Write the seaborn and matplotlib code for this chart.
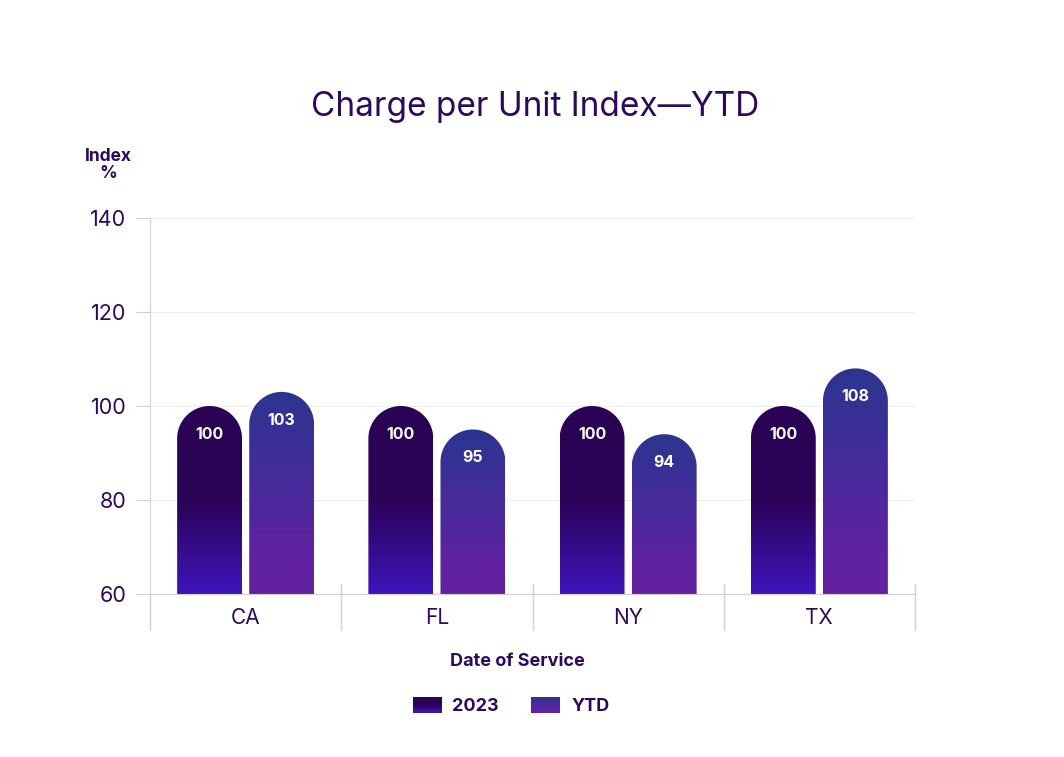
import numpy as np
import pandas as pd
import matplotlib
matplotlib.use("Agg")
import matplotlib.pyplot as plt
import seaborn as sns
from matplotlib.path import Path
from matplotlib.patches import PathPatch, Patch
from matplotlib.colors import LinearSegmentedColormap
from matplotlib.image import BboxImage
from matplotlib.legend_handler import HandlerBase
import matplotlib.transforms as mtransforms

# ── Data ──────────────────────────────────────────────────────────────────────
states = ["CA", "FL", "NY", "TX"]
index_2023 = [100, 100, 100, 100]
index_ytd = [103, 95, 94, 108]
series_names = ["2023", "YTD"]
y_ticks = [60, 80, 100, 120, 140]

TEXT = "#2b0a5e"
GRID = "#eeeeee"
AXIS = "#d0d0d0"

cmaps = {
    "2023": LinearSegmentedColormap.from_list(
        "c2023", [(0.0, "#2a0454"), (0.5, "#2b0258"), (1.0, "#3f15ba")]),
    "YTD": LinearSegmentedColormap.from_list(
        "cytd", [(0.0, "#2b3590"), (0.5, "#4a2a9c"), (0.8, "#6022a0"), (1.0, "#6322a0")]),
}

df = pd.DataFrame({
    "state": states * 2,
    "series": [series_names[0]] * len(states) + [series_names[1]] * len(states),
    "value": index_2023 + index_ytd,
})


class GradientHandler(HandlerBase):
    """Legend key drawn as a small vertical gradient swatch."""

    def __init__(self, cmap):
        super().__init__()
        self.cmap = cmap

    def create_artists(self, legend, orig_handle, xdescent, ydescent,
                       width, height, fontsize, trans):
        bbox = mtransforms.TransformedBbox(
            mtransforms.Bbox.from_bounds(-xdescent, -ydescent, width, height), trans)
        img = BboxImage(bbox, cmap=self.cmap, origin="upper", interpolation="bilinear")
        img.set_data(np.linspace(0, 1, 64).reshape(-1, 1))
        return [img]


# ── Style ─────────────────────────────────────────────────────────────────────
sns.set_style("white")
plt.rcParams["font.family"] = ["Inter", "DejaVu Sans"]

fig = plt.figure(figsize=(10.64, 7.57), dpi=100)
ax = fig.add_axes([150 / 1064, 1 - 594 / 757, 765 / 1064, 376 / 757])

sns.barplot(data=df, x="state", y="value", hue="series", order=states,
            hue_order=series_names, width=0.754, gap=0.1, ax=ax, legend=False)

ymin, ymax = 60, 140
ax.set_ylim(ymin, ymax)
ax.set_xlim(-0.5, len(states) - 0.5)
ax.set_yticks(y_ticks)
ax.set_xlabel("")
ax.set_ylabel("")

for s in ["top", "right"]:
    ax.spines[s].set_visible(False)
ax.spines["bottom"].set_color(AXIS)
ax.spines["left"].set_color(AXIS)
ax.spines["left"].set_bounds(ymin, ymax)
ax.yaxis.grid(True, color=GRID, linewidth=0.8)
ax.set_axisbelow(True)
ax.tick_params(axis="y", length=10, color=AXIS, labelsize=15.5, labelcolor=TEXT, pad=7, left=True)
ax.tick_params(axis="x", length=0, labelsize=15, labelcolor=TEXT, pad=10)

# category separators below the axis
trans = mtransforms.blended_transform_factory(ax.transData, ax.transAxes)
for b in np.arange(-0.5, len(states), 1.0):
    ax.plot([b, b], [-0.096, 0.027 if b > -0.5 else 0], color=AXIS, lw=1,
            transform=trans, clip_on=False, zorder=1)

# ── Rounded, gradient-filled bars ────────────────────────────────────────────
fig.canvas.draw()
px_x = ax.bbox.width / (len(states))
px_y = ax.bbox.height / (ymax - ymin)

n = len(states)
for i, patch in enumerate(list(ax.patches)):
    name = series_names[i // n]
    x0, w, val = patch.get_x(), patch.get_width(), patch.get_height()
    patch.set_visible(False)
    rx = w / 2
    ry = rx * px_x / px_y
    xc = x0 + rx
    yc = val - ry
    t = np.linspace(0, np.pi, 60)
    verts = [(x0, ymin), (x0 + w, ymin)]
    verts += list(zip(xc + rx * np.cos(t), yc + ry * np.sin(t)))
    verts += [(x0, ymin), (x0, ymin)]
    codes = [Path.MOVETO] + [Path.LINETO] * (len(verts) - 2) + [Path.CLOSEPOLY]
    clip = PathPatch(Path(verts, codes), facecolor="none", edgecolor="none",
                     transform=ax.transData)
    ax.add_patch(clip)
    grad = np.linspace(0, 1, 256).reshape(-1, 1)
    im = ax.imshow(grad, cmap=cmaps[name], aspect="auto", origin="upper",
                   extent=(x0, x0 + w, ymin, val), zorder=2)
    im.set_clip_path(clip)
    ax.text(xc, val - 6, f"{val:.0f}", ha="center", va="center", color="white",
            fontsize=11.5, fontweight="bold", zorder=3)

ax.set_xlim(-0.5, len(states) - 0.5)
ax.set_ylim(ymin, ymax)
ax.set_aspect("auto")

# ── Text ─────────────────────────────────────────────────────────────────────
fig.text(535 / 1064, 1 - 107 / 757, "Charge per Unit Index\u2014YTD", ha="center",
         va="center", fontsize=24, color=TEXT)
fig.text(108 / 1064, 1 - 165 / 757, "Index\n%", ha="center", va="center",
         fontsize=12.5, fontweight="bold", color=TEXT, linespacing=1.0)
fig.text(517 / 1064, 1 - 662 / 757, "Date of Service", ha="center", va="center",
         fontsize=13, fontweight="bold", color=TEXT)

handles = [Patch(label=nm) for nm in series_names]
leg = fig.legend(handles=handles, loc="center", bbox_to_anchor=(511 / 1064, 1 - 706 / 757),
                 ncol=2, frameon=False, handlelength=1.6, handleheight=0.95,
                 columnspacing=1.8, handletextpad=0.6,
                 handler_map={h: GradientHandler(cmaps[h.get_label()]) for h in handles},
                 prop={"size": 13, "weight": "bold"})
for txt in leg.get_texts():
    txt.set_color(TEXT)

fig.savefig("out.png", dpi=100, facecolor="white")
